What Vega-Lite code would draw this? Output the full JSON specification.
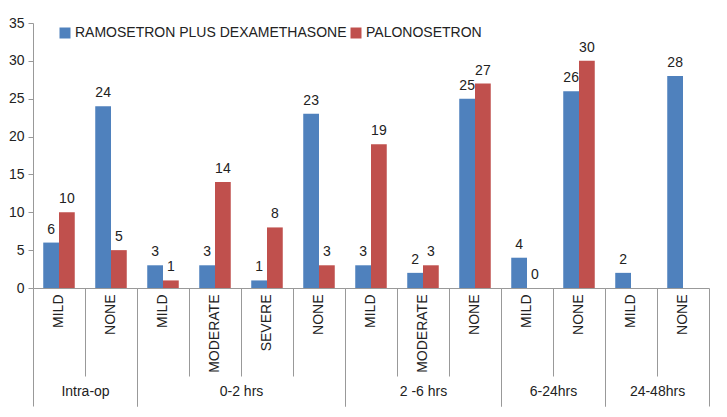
{
  "$schema": "https://vega.github.io/schema/vega-lite/v6.json",
  "padding": {"left": 8, "top": 16, "right": 10, "bottom": 5},
  "background": "white",
  "bounds": "flush",
  "data": {"values": [
    {"period": "Intra-op", "severity": "MILD", "drug": "RAMOSETRON PLUS DEXAMETHASONE", "n": 6},
    {"period": "Intra-op", "severity": "MILD", "drug": "PALONOSETRON", "n": 10},
    {"period": "Intra-op", "severity": "NONE", "drug": "RAMOSETRON PLUS DEXAMETHASONE", "n": 24},
    {"period": "Intra-op", "severity": "NONE", "drug": "PALONOSETRON", "n": 5},
    {"period": "0-2 hrs", "severity": "MILD", "drug": "RAMOSETRON PLUS DEXAMETHASONE", "n": 3},
    {"period": "0-2 hrs", "severity": "MILD", "drug": "PALONOSETRON", "n": 1},
    {"period": "0-2 hrs", "severity": "MODERATE", "drug": "RAMOSETRON PLUS DEXAMETHASONE", "n": 3},
    {"period": "0-2 hrs", "severity": "MODERATE", "drug": "PALONOSETRON", "n": 14},
    {"period": "0-2 hrs", "severity": "SEVERE", "drug": "RAMOSETRON PLUS DEXAMETHASONE", "n": 1},
    {"period": "0-2 hrs", "severity": "SEVERE", "drug": "PALONOSETRON", "n": 8},
    {"period": "0-2 hrs", "severity": "NONE", "drug": "RAMOSETRON PLUS DEXAMETHASONE", "n": 23},
    {"period": "0-2 hrs", "severity": "NONE", "drug": "PALONOSETRON", "n": 3},
    {"period": "2 -6 hrs", "severity": "MILD", "drug": "RAMOSETRON PLUS DEXAMETHASONE", "n": 3},
    {"period": "2 -6 hrs", "severity": "MILD", "drug": "PALONOSETRON", "n": 19},
    {"period": "2 -6 hrs", "severity": "MODERATE", "drug": "RAMOSETRON PLUS DEXAMETHASONE", "n": 2},
    {"period": "2 -6 hrs", "severity": "MODERATE", "drug": "PALONOSETRON", "n": 3},
    {"period": "2 -6 hrs", "severity": "NONE", "drug": "RAMOSETRON PLUS DEXAMETHASONE", "n": 25},
    {"period": "2 -6 hrs", "severity": "NONE", "drug": "PALONOSETRON", "n": 27},
    {"period": "6-24hrs", "severity": "MILD", "drug": "RAMOSETRON PLUS DEXAMETHASONE", "n": 4},
    {"period": "6-24hrs", "severity": "MILD", "drug": "PALONOSETRON", "n": 0},
    {"period": "6-24hrs", "severity": "NONE", "drug": "RAMOSETRON PLUS DEXAMETHASONE", "n": 26},
    {"period": "6-24hrs", "severity": "NONE", "drug": "PALONOSETRON", "n": 30},
    {"period": "24-48hrs", "severity": "MILD", "drug": "RAMOSETRON PLUS DEXAMETHASONE", "n": 2},
    {"period": "24-48hrs", "severity": "NONE", "drug": "RAMOSETRON PLUS DEXAMETHASONE", "n": 28}
  ]},
  "spacing": 0,
  "hconcat": [
    {
      "transform": [{"filter": "datum.period == 'Intra-op'"}],
      "width": 104, "height": 265,
      "encoding": {
        "x": {"field": "severity", "type": "nominal", "sort": ["MILD", "MODERATE", "SEVERE", "NONE"], "scale": {"paddingInner": 0, "paddingOuter": 0}, "axis": {"title": "Intra-op"}},
        "xOffset": {"field": "drug", "type": "nominal", "scale": {"domain": ["RAMOSETRON PLUS DEXAMETHASONE", "PALONOSETRON"], "paddingInner": 0, "paddingOuter": 0.65}},
        "y": {"field": "n", "type": "quantitative", "scale": {"domain": [0, 35]}, "axis": {"title": null, "values": [0, 5, 10, 15, 20, 25, 30, 35], "grid": false, "tickColor": "#999", "domainColor": "#999", "labelFont": "Liberation Sans", "labelFontSize": 14, "labelColor": "#222", "labelPadding": 4}}
      },
      "layer": [
        {"mark": {"type": "bar"}, "encoding": {"color": {"field": "drug", "type": "nominal", "scale": {"domain": ["RAMOSETRON PLUS DEXAMETHASONE", "PALONOSETRON"], "range": ["#4F81BD", "#C0504D"]}, "legend": {"title": null, "orient": "none", "legendX": 25, "legendY": 3, "direction": "horizontal", "symbolType": "square", "symbolSize": 121, "symbolStrokeWidth": 0, "symbolOpacity": 1, "labelFont": "Liberation Sans", "labelFontSize": 14, "labelColor": "#222", "columnPadding": 2, "labelOffset": 3, "labelLimit": 400}}}},
        {"mark": {"type": "text", "baseline": "bottom", "dy": -6, "font": "Liberation Sans", "fontSize": 14, "color": "#222"}, "encoding": {"text": {"field": "n", "type": "quantitative"}}}
      ]
    },
    {
      "transform": [{"filter": "datum.period == '0-2 hrs'"}],
      "width": 208, "height": 265,
      "encoding": {
        "x": {"field": "severity", "type": "nominal", "sort": ["MILD", "MODERATE", "SEVERE", "NONE"], "scale": {"paddingInner": 0, "paddingOuter": 0}, "axis": {"title": "0-2 hrs"}},
        "xOffset": {"field": "drug", "type": "nominal", "scale": {"domain": ["RAMOSETRON PLUS DEXAMETHASONE", "PALONOSETRON"], "paddingInner": 0, "paddingOuter": 0.65}},
        "y": {"field": "n", "type": "quantitative", "scale": {"domain": [0, 35]}, "axis": null}
      },
      "layer": [
        {"mark": {"type": "bar"}, "encoding": {"color": {"field": "drug", "type": "nominal", "scale": {"domain": ["RAMOSETRON PLUS DEXAMETHASONE", "PALONOSETRON"], "range": ["#4F81BD", "#C0504D"]}}}},
        {"mark": {"type": "text", "baseline": "bottom", "dy": -6, "font": "Liberation Sans", "fontSize": 14, "color": "#222"}, "encoding": {"text": {"field": "n", "type": "quantitative"}}}
      ]
    },
    {
      "transform": [{"filter": "datum.period == '2 -6 hrs'"}],
      "width": 156, "height": 265,
      "encoding": {
        "x": {"field": "severity", "type": "nominal", "sort": ["MILD", "MODERATE", "SEVERE", "NONE"], "scale": {"paddingInner": 0, "paddingOuter": 0}, "axis": {"title": "2 -6 hrs"}},
        "xOffset": {"field": "drug", "type": "nominal", "scale": {"domain": ["RAMOSETRON PLUS DEXAMETHASONE", "PALONOSETRON"], "paddingInner": 0, "paddingOuter": 0.65}},
        "y": {"field": "n", "type": "quantitative", "scale": {"domain": [0, 35]}, "axis": null}
      },
      "layer": [
        {"mark": {"type": "bar"}, "encoding": {"color": {"field": "drug", "type": "nominal", "scale": {"domain": ["RAMOSETRON PLUS DEXAMETHASONE", "PALONOSETRON"], "range": ["#4F81BD", "#C0504D"]}}}},
        {"mark": {"type": "text", "baseline": "bottom", "dy": -6, "font": "Liberation Sans", "fontSize": 14, "color": "#222"}, "encoding": {"text": {"field": "n", "type": "quantitative"}}}
      ]
    },
    {
      "transform": [{"filter": "datum.period == '6-24hrs'"}],
      "width": 104, "height": 265,
      "encoding": {
        "x": {"field": "severity", "type": "nominal", "sort": ["MILD", "MODERATE", "SEVERE", "NONE"], "scale": {"paddingInner": 0, "paddingOuter": 0}, "axis": {"title": "6-24hrs"}},
        "xOffset": {"field": "drug", "type": "nominal", "scale": {"domain": ["RAMOSETRON PLUS DEXAMETHASONE", "PALONOSETRON"], "paddingInner": 0, "paddingOuter": 0.65}},
        "y": {"field": "n", "type": "quantitative", "scale": {"domain": [0, 35]}, "axis": null}
      },
      "layer": [
        {"mark": {"type": "bar"}, "encoding": {"color": {"field": "drug", "type": "nominal", "scale": {"domain": ["RAMOSETRON PLUS DEXAMETHASONE", "PALONOSETRON"], "range": ["#4F81BD", "#C0504D"]}}}},
        {"mark": {"type": "text", "baseline": "bottom", "dy": -6, "font": "Liberation Sans", "fontSize": 14, "color": "#222"}, "encoding": {"text": {"field": "n", "type": "quantitative"}}}
      ]
    },
    {
      "transform": [{"filter": "datum.period == '24-48hrs'"}],
      "width": 104, "height": 265,
      "encoding": {
        "x": {"field": "severity", "type": "nominal", "sort": ["MILD", "MODERATE", "SEVERE", "NONE"], "scale": {"paddingInner": 0, "paddingOuter": 0}, "axis": {"title": "24-48hrs"}},
        "xOffset": {"field": "drug", "type": "nominal", "scale": {"domain": ["RAMOSETRON PLUS DEXAMETHASONE", "PALONOSETRON"], "paddingInner": 0, "paddingOuter": 0.65}},
        "y": {"field": "n", "type": "quantitative", "scale": {"domain": [0, 35]}, "axis": null}
      },
      "layer": [
        {"mark": {"type": "bar"}, "encoding": {"color": {"field": "drug", "type": "nominal", "scale": {"domain": ["RAMOSETRON PLUS DEXAMETHASONE", "PALONOSETRON"], "range": ["#4F81BD", "#C0504D"]}}}},
        {"mark": {"type": "text", "baseline": "bottom", "dy": -6, "font": "Liberation Sans", "fontSize": 14, "color": "#222"}, "encoding": {"text": {"field": "n", "type": "quantitative"}}}
      ]
    }
  ],
  "resolve": {"scale": {"x": "independent", "xOffset": "independent", "y": "shared", "color": "shared"}},
  "config": {
    "view": {"stroke": null},
    "axisX": {
      "labelAngle": -90, "bandPosition": 1, "tickExtra": true,
      "tickSize": {"condition": {"test": "datum.value == 'NONE' || datum.index < 0", "value": 118}, "value": 88},
      "labelPadding": {"condition": {"test": "datum.value == 'NONE'", "value": -112}, "value": -82},
      "tickColor": "#999", "domainColor": "#999",
      "labelFont": "Liberation Sans", "labelFontSize": 14, "labelColor": "#222",
      "titleFont": "Liberation Sans", "titleFontSize": 14, "titleFontWeight": "normal", "titleColor": "#222", "titlePadding": -22
    }
  }
}
